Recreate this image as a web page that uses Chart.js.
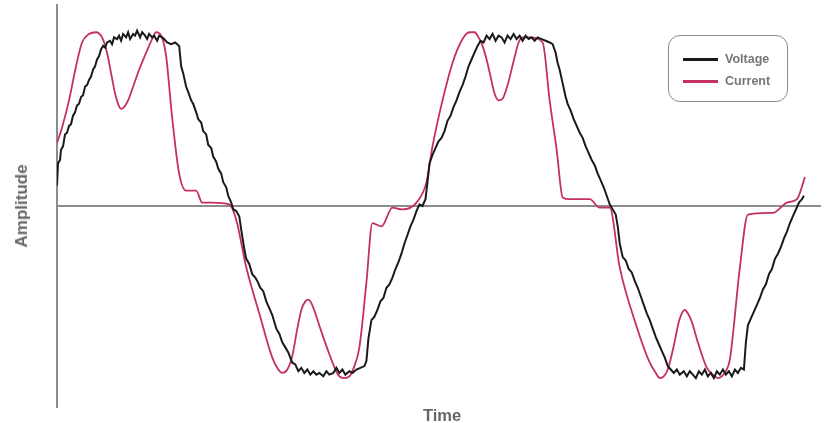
<!DOCTYPE html>
<html>
<head>
<meta charset="utf-8">
<script src="https://cdn.jsdelivr.net/npm/chart.js@4/dist/chart.umd.min.js"></script>
<style>
  html,body{margin:0;padding:0;background:#fff;}
  #wrap{position:relative;width:827px;height:423px;}
  canvas{position:absolute;left:0;top:0;}
  .ttl{position:absolute;font-family:"Liberation Sans",Arial,sans-serif;font-weight:bold;color:#666;white-space:nowrap;}
  #ytitle{left:22px;top:206px;font-size:17px;transform:translate(-50%,-50%) rotate(-90deg);}
  #xtitle{left:442px;top:415px;font-size:16.5px;transform:translate(-50%,-50%);}
  #legend{position:absolute;left:668px;top:35px;width:118px;height:65px;border:1.5px solid #8a8a8a;border-radius:12px;font-family:"Liberation Sans",Arial,sans-serif;font-weight:bold;font-size:12.5px;color:#777;}
  .row{position:absolute;left:14px;height:14px;display:flex;align-items:center;}
  .sw{width:35px;height:3px;margin-right:7px;}
</style>
</head>
<body>
<div id="wrap">
  <canvas id="c" width="827" height="423"></canvas>
  <div class="ttl" id="ytitle">Amplitude</div>
  <div class="ttl" id="xtitle">Time</div>
  <div id="legend"></div>
</div>
<script>
const seriesNames = ["Voltage", "Current"];
const seriesColors = ["#1a1a1a", "#c4305f"];
const xTitle = "Time";
const yTitle = "Amplitude";

const voltageT = [0,1,3,4,6,8,10,12,14,16,18,20,22,24,26,28,30,32,34,36,38,40,42,44,46,48,50,53,55,57,60,62,64,66,69,71,73,76,78,80,83,85,88,90,92,95,97,100,102,105,107,110,114,118,122,124,126,129,131,134,136,139,141,144,146,149,151,154,156,159,161,164,166,169,171,174,176,179,182,184,187,189,192,195,198,200,203,206,209,212,215,217,219,222,225,228,231,233,235,238,241,244,247,250,253,256,259,262,266,269,272,276,279,282,285,288,292,295,299,303,307,309,311,314,317,320,323,326,329,332,335,338,341,344,347,350,353,356,359,362,365,368,370,372,375,378,381,384,387,390,393,396,399,402,405,408,411,414,417,420,423,426,429,432,435,438,441,444,447,450,453,456,459,462,465,468,471,474,477,480,484,488,492,495,498,500,502,505,508,510,513,516,519,522,525,528,531,534,537,540,543,546,549,552,555,558,560,562,565,568,571,574,577,580,583,586,589,592,595,598,601,604,607,610,613,616,619,622,626,629,632,635,638,641,644,647,650,653,656,659,662,665,668,671,674,677,680,683,686,688,690,693,696,699,702,705,708,711,714,717,720,723,726,729,732,735,738,741,744,746];
const voltageA = [0.12,0.25,0.27,0.33,0.35,0.42,0.43,0.47,0.48,0.53,0.55,0.59,0.60,0.64,0.65,0.70,0.71,0.74,0.76,0.80,0.82,0.86,0.88,0.92,0.94,0.93,0.96,0.97,0.95,0.99,0.98,1.00,0.97,1.01,0.99,1.02,0.98,1.01,1.00,1.03,0.99,1.02,1.00,0.98,1.01,0.99,1.00,0.97,1.00,0.99,0.98,0.96,0.95,0.96,0.94,0.82,0.78,0.70,0.67,0.62,0.60,0.55,0.51,0.49,0.44,0.42,0.36,0.34,0.29,0.26,0.22,0.19,0.14,0.11,0.06,0.02,-0.02,-0.03,-0.06,-0.14,-0.25,-0.31,-0.34,-0.40,-0.42,-0.44,-0.48,-0.50,-0.56,-0.60,-0.64,-0.68,-0.72,-0.75,-0.80,-0.83,-0.86,-0.89,-0.92,-0.93,-0.97,-0.95,-0.98,-0.96,-0.99,-0.97,-0.99,-0.98,-1.00,-0.97,-0.99,-0.98,-0.95,-0.98,-0.96,-0.99,-0.97,-0.98,-0.96,-0.95,-0.94,-0.91,-0.78,-0.67,-0.65,-0.61,-0.56,-0.54,-0.48,-0.46,-0.42,-0.37,-0.33,-0.28,-0.22,-0.17,-0.12,-0.08,-0.03,0.01,0.00,0.04,0.14,0.25,0.30,0.34,0.38,0.40,0.44,0.50,0.53,0.58,0.62,0.67,0.71,0.76,0.82,0.86,0.90,0.94,0.97,0.96,1.00,0.98,1.01,0.97,1.00,0.99,0.96,1.00,0.98,1.01,0.98,1.00,0.97,1.00,0.98,0.99,0.97,0.99,0.98,0.97,0.96,0.95,0.90,0.84,0.80,0.72,0.64,0.60,0.56,0.51,0.47,0.43,0.40,0.35,0.31,0.27,0.24,0.19,0.15,0.11,0.06,0.01,-0.02,-0.05,-0.12,-0.22,-0.30,-0.32,-0.37,-0.39,-0.44,-0.48,-0.53,-0.58,-0.63,-0.67,-0.72,-0.77,-0.81,-0.85,-0.89,-0.94,-0.96,-0.98,-0.96,-0.99,-0.97,-1.00,-0.97,-0.99,-1.01,-0.97,-0.99,-0.96,-1.00,-0.98,-1.01,-0.97,-0.99,-0.96,-0.99,-0.97,-1.00,-0.96,-0.98,-0.95,-0.96,-0.80,-0.70,-0.66,-0.62,-0.58,-0.54,-0.49,-0.46,-0.40,-0.37,-0.31,-0.28,-0.24,-0.19,-0.15,-0.10,-0.06,-0.02,0.02,0.04,0.06];

const currentT = [0,5,12,19,25,32,39,45,50,54,58,61,64,67,71,76,82,89,95,99,103,106,109,115,122,129,139,145,155,172,179,189,202,215,221,225,230,235,240,244,248,251,254,258,263,272,278,282,287,292,297,302,309,315,324,335,345,359,369,375,385,395,405,412,417,421,425,429,433,437,441,445,450,456,461,465,472,485,492,499,505,512,532,542,552,562,579,592,598,602,606,610,616,621,624,627,630,634,640,649,655,660,664,668,672,682,690,715,729,739,747];
const currentA = [0.37,0.46,0.62,0.82,0.96,1.01,1.02,0.99,0.90,0.78,0.66,0.60,0.57,0.58,0.62,0.70,0.80,0.90,0.98,1.02,1.01,0.97,0.88,0.52,0.19,0.09,0.09,0.02,0.02,0.01,-0.08,-0.36,-0.63,-0.89,-0.96,-0.98,-0.96,-0.88,-0.72,-0.61,-0.56,-0.55,-0.57,-0.63,-0.72,-0.87,-0.96,-1.00,-1.01,-1.00,-0.94,-0.83,-0.45,-0.10,-0.12,-0.01,-0.02,0.02,0.14,0.35,0.62,0.84,0.98,1.02,1.02,0.99,0.94,0.86,0.76,0.66,0.62,0.63,0.71,0.85,0.96,0.99,0.99,0.96,0.62,0.33,0.05,0.04,0.04,-0.01,-0.01,-0.36,-0.71,-0.92,-0.98,-1.01,-1.00,-0.96,-0.82,-0.68,-0.63,-0.61,-0.63,-0.68,-0.80,-0.95,-0.99,-1.01,-1.00,-0.97,-0.90,-0.36,-0.05,-0.04,0.02,0.04,0.17];

const toPts = (t, a) => t.map((v, i) => ({x: v, y: a[i]}));

const legend = document.getElementById('legend');
seriesNames.forEach((n, i) => {
  const r = document.createElement('div');
  r.className = 'row';
  r.style.top = (16 + i * 22) + 'px';
  r.innerHTML = '<div class="sw" style="background:' + seriesColors[i] + '"></div><span>' + n + '</span>';
  legend.appendChild(r);
});

new Chart(document.getElementById('c'), {
  type: 'line',
  data: {
    datasets: [
      {label: seriesNames[0], data: toPts(voltageT, voltageA), borderColor: seriesColors[0], borderWidth: 2, pointRadius: 0, tension: 0},
      {label: seriesNames[1], data: toPts(currentT, currentA), borderColor: seriesColors[1], borderWidth: 1.8, pointRadius: 0, cubicInterpolationMode: 'monotone'}
    ]
  },
  options: {
    responsive: false,
    animation: false,
    events: [],
    layout: {padding: {left: 57, right: 6, top: 5, bottom: 16}},
    plugins: {legend: {display: false}, tooltip: {enabled: false}},
    scales: {
      x: {type: 'linear', min: 0, max: 763, display: false},
      y: {
        min: -1.18, max: 1.18,
        afterBuildTicks: (s) => { s.ticks = [{value: 0}]; },
        ticks: {display: false},
        grid: {color: '#8c8c8c', lineWidth: 2, drawTicks: false},
        border: {display: true, color: '#8c8c8c', width: 2}
      }
    }
  }
});
</script>
</body>
</html>
